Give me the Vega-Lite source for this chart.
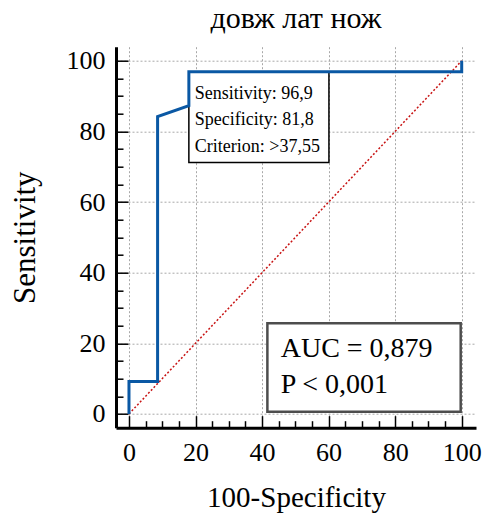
{
  "$schema": "https://vega.github.io/schema/vega-lite/v6.json",
  "width": 360,
  "height": 381,
  "autosize": "none",
  "padding": {"left": 116, "top": 46.7, "right": 8, "bottom": 85.3},
  "background": "white",
  "config": {
    "view": {"stroke": null},
    "font": "Liberation Serif",
    "axis": {
      "domainColor": "#000000",
      "domainWidth": 3,
      "tickColor": "#000000",
      "tickWidth": 1.5,
      "gridColor": "#a8a8a8",
      "gridDash": [2, 2],
      "gridWidth": 1,
      "labelFont": "Liberation Serif",
      "labelFontSize": 26,
      "labelColor": "#000000",
      "labelOverlap": false,
      "labelFlush": false,
      "titleFont": "Liberation Serif",
      "titleFontWeight": "normal",
      "titleColor": "#000000"
    }
  },
  "title": {
    "text": "довж лат нож",
    "font": "Liberation Serif",
    "fontSize": 30,
    "fontWeight": "normal",
    "color": "#000000",
    "frame": "group",
    "anchor": "middle",
    "baseline": "alphabetic",
    "offset": -11
  },
  "resolve": {"axis": {"x": "independent", "y": "independent"}},
  "layer": [
    {
      "data": {"values": [{"x": 0, "y": 0}, {"x": 100, "y": 100}]},
      "mark": {"type": "line", "color": "#c81414", "strokeWidth": 1.5, "strokeDash": [2, 2]},
      "encoding": {
        "x": {
          "field": "x", "type": "quantitative",
          "scale": {"domain": [-3.9, 104.3], "nice": false, "zero": false},
          "axis": {
            "orient": "bottom",
            "values": [0, 20, 40, 60, 80, 100],
            "ticks": false,
            "grid": true,
            "title": "100-Specificity",
            "titleFontSize": 29,
            "labelPadding": 12,
            "titlePadding": 18
          }
        },
        "y": {
          "field": "y", "type": "quantitative",
          "scale": {"domain": [-3.9, 104], "nice": false, "zero": false},
          "axis": {
            "orient": "left",
            "values": [0, 20, 40, 60, 80, 100],
            "ticks": false,
            "grid": true,
            "title": "Sensitivity",
            "titleFontSize": 31,
            "labelPadding": 11,
            "titlePadding": 25
          }
        }
      }
    },
    {
      "data": {"values": [{"x": 0, "y": 0}, {"x": 100, "y": 100}]},
      "mark": {"type": "line", "opacity": 0},
      "encoding": {
        "x": {
          "field": "x", "type": "quantitative",
          "axis": {
            "orient": "bottom",
            "values": [5, 10, 15, 25, 30, 35, 45, 50, 55, 65, 70, 75, 85, 90, 95],
            "tickSize": -7,
            "grid": false,
            "domain": false,
            "labels": false,
            "title": null
          }
        },
        "y": {
          "field": "y", "type": "quantitative",
          "axis": {
            "orient": "left",
            "values": [5, 10, 15, 25, 30, 35, 45, 50, 55, 65, 70, 75, 85, 90, 95],
            "tickSize": -7,
            "grid": false,
            "domain": false,
            "labels": false,
            "title": null
          }
        }
      }
    },
    {
      "data": {"values": [{"x": 0, "y": 0}, {"x": 100, "y": 100}]},
      "mark": {"type": "line", "opacity": 0},
      "encoding": {
        "x": {
          "field": "x", "type": "quantitative",
          "axis": {
            "orient": "bottom",
            "values": [0, 20, 40, 60, 80, 100],
            "tickSize": -12,
            "grid": false,
            "domain": false,
            "labels": false,
            "title": null
          }
        },
        "y": {
          "field": "y", "type": "quantitative",
          "axis": {
            "orient": "left",
            "values": [0, 20, 40, 60, 80, 100],
            "tickSize": -12,
            "grid": false,
            "domain": false,
            "labels": false,
            "title": null
          }
        }
      }
    },
    {
      "data": {"values": [{"x1": 18.0, "x2": 60.1, "y1": 96.9, "y2": 71.2}]},
      "mark": {"type": "rect", "fill": "white", "stroke": "#000000", "strokeWidth": 1.5},
      "encoding": {
        "x": {"field": "x1", "type": "quantitative", "axis": null},
        "x2": {"field": "x2"},
        "y": {"field": "y1", "type": "quantitative", "axis": null},
        "y2": {"field": "y2"}
      }
    },
    {
      "data": {"values": [
        {"i": 1, "x": 0, "y": 0},
        {"i": 2, "x": 0, "y": 9.2},
        {"i": 3, "x": 8.6, "y": 9.2},
        {"i": 4, "x": 8.6, "y": 84.2},
        {"i": 5, "x": 18.0, "y": 87.3},
        {"i": 6, "x": 18.0, "y": 96.9},
        {"i": 7, "x": 100, "y": 96.9},
        {"i": 8, "x": 100, "y": 100}
      ]},
      "mark": {"type": "line", "color": "#0a58a4", "strokeWidth": 3, "strokeJoin": "miter"},
      "encoding": {
        "x": {"field": "x", "type": "quantitative", "axis": null},
        "y": {"field": "y", "type": "quantitative", "axis": null},
        "order": {"field": "i"}
      }
    },
    {
      "data": {"values": [
        {"x": 19.8, "y": 89.2, "label": "Sensitivity: 96,9"},
        {"x": 19.8, "y": 81.7, "label": "Specificity: 81,8"},
        {"x": 19.8, "y": 74.3, "label": "Criterion: >37,55"}
      ]},
      "mark": {"type": "text", "align": "left", "baseline": "alphabetic", "font": "Liberation Serif", "fontSize": 18, "color": "#000000"},
      "encoding": {
        "x": {"field": "x", "type": "quantitative", "axis": null},
        "y": {"field": "y", "type": "quantitative", "axis": null},
        "text": {"field": "label"}
      }
    },
    {
      "data": {"values": [{"x1": 41.6, "x2": 99.7, "y1": 25.7, "y2": 0.65}]},
      "mark": {"type": "rect", "fill": "white", "stroke": "#4d4d4d", "strokeWidth": 2.5},
      "encoding": {
        "x": {"field": "x1", "type": "quantitative", "axis": null},
        "x2": {"field": "x2"},
        "y": {"field": "y1", "type": "quantitative", "axis": null},
        "y2": {"field": "y2"}
      }
    },
    {
      "data": {"values": [
        {"x": 45.6, "y": 16.1, "label": "AUC = 0,879"},
        {"x": 45.6, "y": 5.9, "label": "P < 0,001"}
      ]},
      "mark": {"type": "text", "align": "left", "baseline": "alphabetic", "font": "Liberation Serif", "fontSize": 28, "color": "#000000"},
      "encoding": {
        "x": {"field": "x", "type": "quantitative", "axis": null},
        "y": {"field": "y", "type": "quantitative", "axis": null},
        "text": {"field": "label"}
      }
    }
  ]
}
